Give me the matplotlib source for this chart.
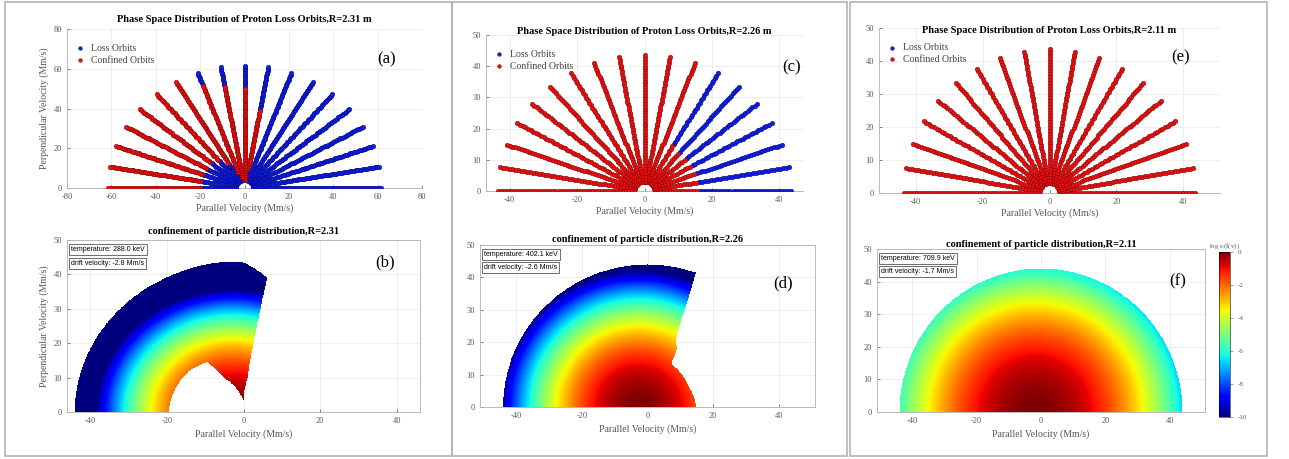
import numpy as np
import matplotlib
matplotlib.use('Agg')
from matplotlib import pyplot as plt
from matplotlib.patches import Rectangle

plt.rcParams['font.family'] = ['Liberation Serif', 'DejaVu Serif']
plt.rcParams['mathtext.fontset'] = 'stix'
plt.rcParams['axes.unicode_minus'] = False

W, H = 1289, 459

# ---- data ----
major_radius = ['2.31', '2.26', '2.11']
temperature = [288.0, 402.1, 709.9]      # keV
drift_velocity = [-2.8, -2.6, -1.7]      # Mm/s

ray_angles = [0, 10, 20, 30, 40, 50, 60, 70, 80, 90,
              100, 110, 120, 130, 140, 150, 160, 170, 180]
nan = np.nan
# confined (red) speed interval on each ray, nan = lost along the whole ray
conf_lo_a = [nan, nan, nan, nan, nan, nan, nan, nan, 10, 3.5, 5, 8, 14, 18, 20, 20, 20, 20, 20]
conf_hi_a = [nan, nan, nan, nan, nan, nan, nan, nan, 40, 50, 52, 55, 62, 62, 62, 62, 62, 62, 62]
conf_lo_c = [3] * 19
conf_hi_c = [16, 16, 16, 16, 16, 16, 17, 44, 44, 44, 44, 44, 44, 44, 44, 44, 44, 44, 44]
conf_lo_e = [3] * 19
conf_hi_e = [44] * 19
ray_speed_range = [(4, 62), (3, 44), (3, 44)]

# confined region of the distribution maps (polar boundaries, deg / Mm/s)
b_theta = [81, 82, 84, 90, 99, 117, 123, 140, 180]
b_rmin = [39, 25, 10, 3.5, 5, 11, 17.3, 18.5, 19.5]
b_rmax = [39.5, 40, 41, 43.5, 44, 44, 44, 44, 44]
d_theta = [0, 26, 60, 62, 63.5, 67, 68.5, 69.5, 70.5, 180]
d_rmin = [0] * 10
d_rmax = [14.8, 14, 15, 16, 20, 22, 25, 34, 44, 44]
f_theta = [0, 180]
f_rmin = [0, 0]
f_rmax = [44, 44]

fig = plt.figure(figsize=(W / 100, H / 100), dpi=100)


def px_axes(x0, x1, y0, y1):
    return fig.add_axes([x0 / W, 1 - y1 / H, (x1 - x0) / W, (y1 - y0) / H])


def style(ax, box):
    for s in ['top', 'right']:
        ax.spines[s].set_visible(box)
    for s in ax.spines.values():
        s.set_color('#b0b0b0')
        s.set_linewidth(0.6)
    ax.tick_params(labelsize=6, colors='#555555', length=2, direction='in', width=0.5)
    ax.grid(True, color='#e8e8e8', linewidth=0.5)
    ax.set_axisbelow(True)


# panel frames
for x0, x1 in [(5, 452), (452, 847), (850, 1267)]:
    fig.add_artist(Rectangle((x0 / W, 3 / H), (x1 - x0) / W, 454 / H, transform=fig.transFigure,
                             fill=False, edgecolor='#b4b4b4', linewidth=1.2))

# ---- top row: orbit rays ----
top_boxes = [(67, 422, 29, 188), (486, 803, 35, 191), (879, 1220, 28, 193)]
top_lims = [80, 47, 51]
top_ylims = [80, 50, 50]
conf_lo = [conf_lo_a, conf_lo_c, conf_lo_e]
conf_hi = [conf_hi_a, conf_hi_c, conf_hi_e]
letters_top = ['(a)', '(c)', '(e)']
letter_top_pos = [(0.90, 0.81), (0.965, 0.79), (0.885, 0.82)]
title_top_y = [1.057, 1.02, 0.985]

for k in range(3):
    ax = px_axes(*top_boxes[k])
    style(ax, False)
    vmin, vmax = ray_speed_range[k]
    v = np.arange(vmin, vmax + 0.01, 0.9)
    lx, ly, cx, cy = [], [], [], []
    for ang, lo, hi in zip(ray_angles, conf_lo[k], conf_hi[k]):
        t = np.deg2rad(ang)
        conf = (v >= lo) & (v <= hi) if not np.isnan(lo) else np.zeros_like(v, bool)
        lx += list(v[~conf] * np.cos(t)); ly += list(v[~conf] * np.sin(t))
        cx += list(v[conf] * np.cos(t)); cy += list(v[conf] * np.sin(t))
    ax.scatter(lx, ly, s=11, c='#1020e0', edgecolors='#000070', linewidths=0.3, label='Loss Orbits', zorder=3)
    ax.scatter(cx, cy, s=11, c='#e81010', edgecolors='#700000', linewidths=0.3, label='Confined Orbits', zorder=3)
    lim = top_lims[k]
    ax.set_xlim(-lim, lim)
    ax.set_ylim(0, top_ylims[k])
    if k == 0:
        ax.set_xticks(np.arange(-80, 81, 20))
        ax.set_yticks(np.arange(0, 81, 20))
        ax.set_ylabel('Perpendicular Velocity (Mm/s)', fontsize=7, color='#555555', labelpad=3)
    else:
        ax.set_xticks(np.arange(-40, 41, 20))
        ax.set_yticks(np.arange(0, 51, 10))
    ax.set_xlabel('Parallel Velocity (Mm/s)', fontsize=7, color='#555555', labelpad=2)
    ax.text(0.5, title_top_y[k], 'Phase Space Distribution of Proton Loss Orbits,R=%s m' % major_radius[k],
            transform=ax.transAxes, ha='center', va='center', fontsize=7.5, fontweight='bold')
    ax.text(*letter_top_pos[k], letters_top[k], transform=ax.transAxes, ha='center', va='center', fontsize=12)
    ax.legend(loc='upper left', bbox_to_anchor=(-0.01, 0.95), frameon=False, fontsize=7,
              handletextpad=0.1, borderpad=0.2, labelspacing=0.3, markerscale=0.8, labelcolor='#444444')

# ---- bottom row: distribution maps ----
bot_boxes = [(67, 420, 240, 412), (480, 815, 245, 407), (877, 1205, 249, 412)]
bot_lims = [46, 51, 51]
region = [(b_theta, b_rmin, b_rmax), (d_theta, d_rmin, d_rmax), (f_theta, f_rmin, f_rmax)]
letters_bot = ['(b)', '(d)', '(f)']
letter_bot_pos = [(0.90, 0.87), (0.905, 0.765), (0.918, 0.80)]
title_bot_y = [1.047, 1.031, 1.025]
vth2 = [2 * T * 1.602e-16 / 1.6726e-27 / 1e12 for T in temperature]

for k in range(3):
    ax = px_axes(*bot_boxes[k])
    style(ax, True)
    lim = bot_lims[k]
    vpar = np.arange(-lim, lim + 0.001, 0.1)
    vperp = np.arange(0, 50.001, 0.1)
    X, Y = np.meshgrid(vpar, vperp)
    R = np.hypot(X, Y)
    TH = np.degrees(np.arctan2(Y, X))
    th, rmn, rmx = region[k]
    inside = (TH >= th[0]) & (TH <= th[-1]) & (R >= np.interp(TH, th, rmn)) & (R <= np.interp(TH, th, rmx))
    logf = -np.log10(np.e) * ((X - drift_velocity[k]) ** 2 + Y ** 2) / vth2[k]
    logf = np.ma.masked_where(~inside, np.clip(logf, -10, 0))
    im = ax.imshow(logf, extent=[vpar[0], vpar[-1], 0, 50], origin='lower', aspect='auto',
                   cmap='jet', vmin=-10, vmax=0, interpolation='nearest', zorder=2)
    ax.set_xlim(-lim, lim)
    ax.set_ylim(0, 50)
    ax.set_xticks(np.arange(-40, 41, 20))
    ax.set_yticks(np.arange(0, 51, 10))
    if k == 0:
        ax.set_ylabel('Perpendicular Velocity (Mm/s)', fontsize=7, color='#555555', labelpad=3)
    ax.set_xlabel('Parallel Velocity (Mm/s)', fontsize=7, color='#555555', labelpad=3)
    ax.text(0.5, title_bot_y[k], 'confinement of particle distribution,R=%s' % major_radius[k],
            transform=ax.transAxes, ha='center', va='center', fontsize=7.5, fontweight='bold')
    ax.text(*letter_bot_pos[k], letters_bot[k], transform=ax.transAxes, ha='center', va='center', fontsize=12)
    bb = dict(boxstyle='square,pad=0.3', facecolor='white', edgecolor='#333333', linewidth=0.5)
    ax.text(0.012, 0.965, 'temperature: %.1f keV' % temperature[k], transform=ax.transAxes, va='top',
            fontsize=5, family=['Liberation Sans', 'DejaVu Sans'], bbox=bb, zorder=5)
    ax.text(0.012, 0.885, 'drift velocity: %.1f Mm/s' % drift_velocity[k], transform=ax.transAxes, va='top',
            fontsize=5, family=['Liberation Sans', 'DejaVu Sans'], bbox=bb, zorder=5)

cax = px_axes(1219, 1230, 252, 417)
cb = fig.colorbar(im, cax=cax, ticks=[0, -2, -4, -6, -8, -10])
cb.outline.set_linewidth(0.4)
cax.tick_params(labelsize=5, colors='#555555', length=2, width=0.4)
cax.set_title('log$_{10}$(f(v))', fontsize=5, color='#555555', pad=3)

fig.savefig('out.png', dpi=100)
